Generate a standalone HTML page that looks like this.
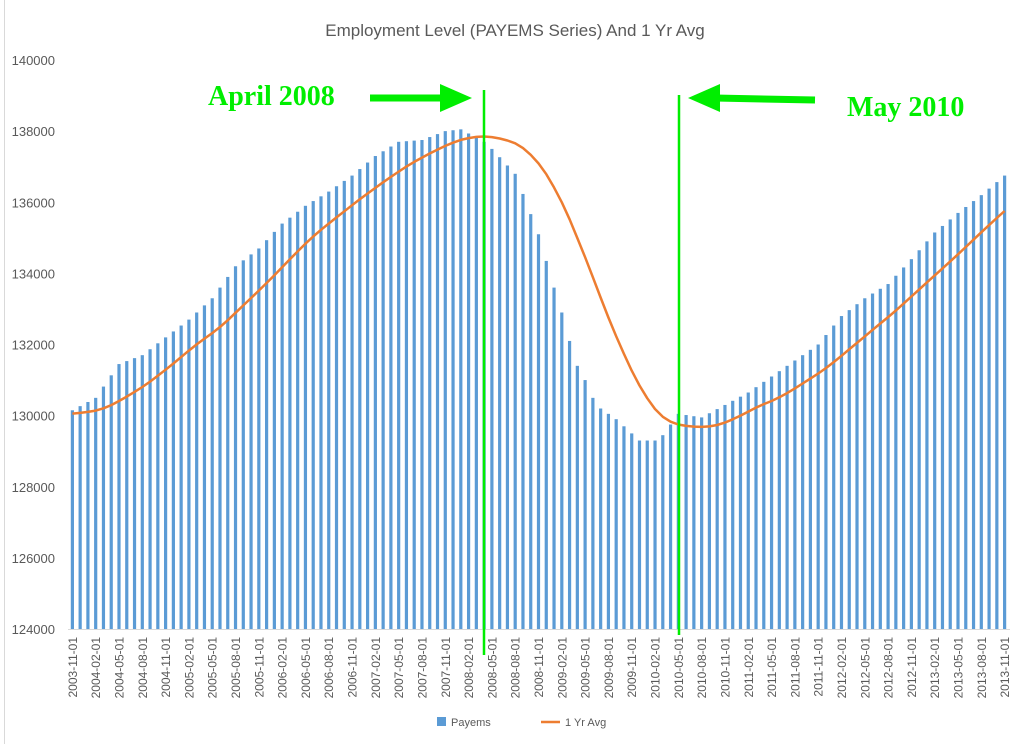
<!DOCTYPE html>
<html><head><meta charset="utf-8"><style>
body{margin:0;background:#fff;width:1024px;height:744px;overflow:hidden;font-family:"Liberation Sans",sans-serif}
</style></head><body>
<svg id="s" width="1024" height="744" xmlns="http://www.w3.org/2000/svg" font-family="Liberation Sans, sans-serif">
<rect width="1024" height="744" fill="#fff"/>
<line x1="4.5" y1="0" x2="4.5" y2="744" stroke="#d9d9d9"/>
<text x="515" y="36" text-anchor="middle" font-size="17" fill="#595959">Employment Level (PAYEMS Series) And 1 Yr Avg</text>
<g id="g"></g>
<line x1="68" y1="629.5" x2="1010" y2="629.5" stroke="#d9d9d9"/>
<rect x="437" y="717" width="9" height="9" fill="#5b9bd5"/>
<text x="451" y="726" font-size="11" fill="#595959">Payems</text>
<line x1="541" y1="722" x2="560" y2="722" stroke="#ed7d31" stroke-width="2.5"/>
<text x="565" y="726" font-size="11" fill="#595959">1 Yr Avg</text>
<g fill="#00ee00" stroke="#00ee00">
<line x1="484" y1="90" x2="484" y2="655" stroke-width="2.5"/>
<line x1="679" y1="95" x2="679" y2="635" stroke-width="2.5"/>
<line x1="370" y1="98" x2="445" y2="98" stroke-width="7"/>
<polygon points="440,84 472,98 440,112" stroke="none"/>
<line x1="815" y1="100" x2="715" y2="98" stroke-width="7"/>
<polygon points="720,84 688,98 720,112" stroke="none"/>
</g>
<text x="208" y="105" font-family="Liberation Serif, serif" font-weight="bold" font-size="28" fill="#00ee00">April 2008</text>
<text x="847" y="116" font-family="Liberation Serif, serif" font-weight="bold" font-size="28" fill="#00ee00">May 2010</text>
</svg>
<script>
var key={0:130150,3:130500,6:131450,9:131700,12:132200,15:132700,18:133300,21:134200,24:134700,27:135400,30:135900,33:136300,36:136750,39:137300,42:137700,45:137750,48:138000,50:138050,53:137700,54:137500,57:136800,60:135100,62:133600,63:132900,64:132100,65:131400,66:131000,67:130500,68:130200,70:129900,73:129300,75:129300,76:129450,78:130050,81:129950,84:130300,87:130650,90:131100,93:131550,96:132000,99:132800,102:133300,105:133700,108:134400,111:135150,114:135700,117:136200,120:136750};
var ks=Object.keys(key).map(Number).sort(function(a,b){return a-b});
var v=[];
for(var i=0;i<121;i++){for(var j=0;j<ks.length-1;j++){if(i>=ks[j]&&i<=ks[j+1]){var a=ks[j],b=ks[j+1];v[i]=key[a]+(key[b]-key[a])*(i-a)/(b-a);break;}}}
function Y(x){return 629-(x-124000)*569/16000;}
var cw=940/121,x0=68.5,h='';
for(var t=0;t<=8;t++){var val=124000+t*2000;h+='<text x="55" y="'+(Y(val)+5)+'" text-anchor="end" font-size="13" fill="#595959">'+val+'</text>';}
for(i=0;i<121;i++){var cx=x0+cw*(i+0.5);h+='<rect x="'+(cx-1.6)+'" y="'+Y(v[i])+'" width="3.2" height="'+(629-Y(v[i]))+'" fill="#5b9bd5"/>';}
function val2(k){return k>=0?v[k]:130050;}
var pts=[];
for(i=0;i<121;i++){var s=0;for(j=i-11;j<=i;j++){s+=val2(j);}
var m=s/12; pts.push((x0+cw*(i+0.5)).toFixed(1)+','+Y(m).toFixed(1));}
h+='<polyline points="'+pts.join(' ')+'" fill="none" stroke="#ed7d31" stroke-width="2.5" stroke-linejoin="round"/>';
for(i=0;i<121;i+=3){var cx=x0+cw*(i+0.5);var d=new Date(2003,10+i,1);var mm=d.getMonth()+1;var lab=d.getFullYear()+'-'+(mm<10?'0':'')+mm+'-01';
h+='<text transform="translate('+(cx+4.5)+',637) rotate(-90)" text-anchor="end" font-size="12" fill="#595959">'+lab+'</text>';}
document.getElementById('g').innerHTML=h;
</script>
</body></html>
